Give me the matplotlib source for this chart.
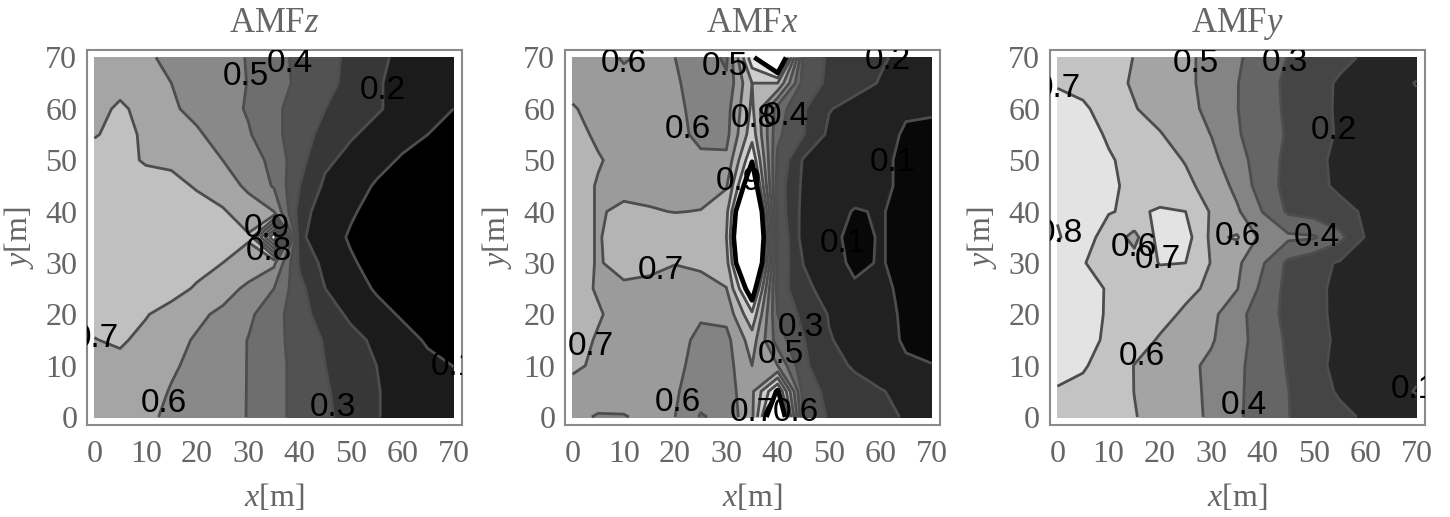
import matplotlib.pyplot as plt
import matplotlib as mpl
import numpy as np
from matplotlib.colors import Normalize

mpl.rcParams['font.family'] = ['Liberation Serif', 'DejaVu Serif']
mpl.rcParams['mathtext.fontset'] = 'custom'
mpl.rcParams['mathtext.rm'] = 'Liberation Serif'
mpl.rcParams['mathtext.it'] = 'Liberation Serif:italic'

# grid of measuring points [m]; rows of the tables go from y=70 (top) down to y=0
x_m = [0, 5, 10, 15, 20, 25, 30, 35, 40, 45, 50, 55, 60, 65, 70]
y_m = [70, 65, 60, 55, 50, 45, 40, 35, 30, 25, 20, 15, 10, 5, 0]

amf_z = [
    [0.66, 0.65, 0.61, 0.585, 0.565, 0.53, 0.495, 0.43, 0.38, 0.33, 0.28, 0.22, 0.18, 0.15, 0.13],
    [0.67, 0.68, 0.64, 0.60, 0.57, 0.54, 0.497, 0.44, 0.38, 0.33, 0.27, 0.21, 0.17, 0.14, 0.12],
    [0.68, 0.71, 0.68, 0.61, 0.58, 0.54, 0.49, 0.42, 0.36, 0.30, 0.25, 0.21, 0.17, 0.13, 0.10],
    [0.695, 0.72, 0.69, 0.65, 0.61, 0.57, 0.51, 0.43, 0.34, 0.27, 0.21, 0.17, 0.13, 0.10, 0.08],
    [0.73, 0.73, 0.69, 0.68, 0.65, 0.60, 0.55, 0.47, 0.33, 0.22, 0.17, 0.13, 0.09, 0.07, 0.06],
    [0.75, 0.75, 0.74, 0.73, 0.69, 0.65, 0.58, 0.49, 0.30, 0.18, 0.14, 0.09, 0.06, 0.05, 0.05],
    [0.76, 0.76, 0.76, 0.75, 0.74, 0.71, 0.65, 0.60, 0.25, 0.14, 0.11, 0.07, 0.05, 0.04, 0.04],
    [0.77, 0.77, 0.77, 0.77, 0.76, 0.74, 0.71, 1.30, 0.22, 0.14, 0.09, 0.06, 0.04, 0.03, 0.03],
    [0.76, 0.76, 0.76, 0.75, 0.73, 0.70, 0.66, 0.62, 0.28, 0.17, 0.11, 0.07, 0.05, 0.04, 0.04],
    [0.75, 0.75, 0.74, 0.73, 0.69, 0.64, 0.58, 0.50, 0.33, 0.20, 0.14, 0.09, 0.06, 0.05, 0.04],
    [0.72, 0.72, 0.705, 0.67, 0.62, 0.58, 0.52, 0.44, 0.34, 0.25, 0.18, 0.13, 0.09, 0.07, 0.06],
    [0.698, 0.71, 0.68, 0.63, 0.59, 0.55, 0.497, 0.43, 0.36, 0.29, 0.23, 0.18, 0.13, 0.09, 0.08],
    [0.68, 0.68, 0.65, 0.61, 0.58, 0.54, 0.497, 0.43, 0.37, 0.30, 0.25, 0.20, 0.16, 0.12, 0.099],
    [0.66, 0.65, 0.63, 0.595, 0.57, 0.535, 0.497, 0.43, 0.37, 0.31, 0.26, 0.205, 0.17, 0.14, 0.12],
    [0.65, 0.63, 0.61, 0.59, 0.56, 0.53, 0.497, 0.43, 0.37, 0.32, 0.26, 0.205, 0.17, 0.15, 0.13],
]

amf_x = [
    [0.66, 0.64, 0.59, 0.62, 0.60, 0.56, 0.48, 0.97, 1.30, 0.38, 0.285, 0.25, 0.21, 0.18, 0.16],
    [0.68, 0.65, 0.63, 0.62, 0.61, 0.565, 0.52, 0.80, 0.80, 0.36, 0.28, 0.23, 0.195, 0.16, 0.15],
    [0.705, 0.68, 0.65, 0.63, 0.62, 0.57, 0.56, 0.82, 0.45, 0.31, 0.205, 0.17, 0.15, 0.11, 0.11],
    [0.72, 0.69, 0.67, 0.65, 0.63, 0.575, 0.57, 0.86, 0.42, 0.305, 0.18, 0.15, 0.13, 0.09, 0.08],
    [0.73, 0.705, 0.68, 0.67, 0.655, 0.62, 0.62, 0.99, 0.38, 0.19, 0.16, 0.14, 0.12, 0.08, 0.07],
    [0.73, 0.695, 0.685, 0.68, 0.675, 0.675, 0.69, 1.15, 0.35, 0.18, 0.15, 0.13, 0.12, 0.08, 0.07],
    [0.73, 0.695, 0.71, 0.705, 0.698, 0.702, 0.77, 1.40, 0.36, 0.17, 0.13, 0.095, 0.105, 0.08, 0.07],
    [0.73, 0.695, 0.73, 0.74, 0.745, 0.75, 0.80, 1.50, 0.40, 0.16, 0.12, 0.08, 0.105, 0.08, 0.07],
    [0.73, 0.695, 0.72, 0.715, 0.702, 0.71, 0.76, 1.40, 0.38, 0.198, 0.13, 0.085, 0.105, 0.08, 0.07],
    [0.72, 0.695, 0.69, 0.685, 0.675, 0.68, 0.697, 1.10, 0.36, 0.22, 0.17, 0.11, 0.11, 0.09, 0.08],
    [0.72, 0.705, 0.68, 0.67, 0.65, 0.61, 0.63, 0.88, 0.40, 0.27, 0.195, 0.15, 0.12, 0.09, 0.08],
    [0.72, 0.695, 0.67, 0.65, 0.63, 0.58, 0.57, 0.75, 0.45, 0.305, 0.205, 0.175, 0.13, 0.09, 0.08],
    [0.71, 0.69, 0.665, 0.645, 0.62, 0.57, 0.56, 0.70, 0.60, 0.32, 0.23, 0.19, 0.16, 0.11, 0.102],
    [0.68, 0.66, 0.64, 0.63, 0.61, 0.55, 0.55, 0.68, 1.02, 0.36, 0.27, 0.23, 0.205, 0.18, 0.17],
    [0.63, 0.59, 0.595, 0.62, 0.60, 0.49, 0.53, 0.68, 1.25, 0.38, 0.29, 0.245, 0.215, 0.195, 0.18],
]

amf_y = [
    [0.68, 0.66, 0.63, 0.598, 0.558, 0.52, 0.47, 0.414, 0.354, 0.296, 0.26, 0.22, 0.19, 0.17, 0.15],
    [0.69, 0.67, 0.63, 0.59, 0.555, 0.52, 0.47, 0.404, 0.34, 0.28, 0.23, 0.19, 0.16, 0.14, 0.095],
    [0.74, 0.715, 0.66, 0.605, 0.565, 0.527, 0.477, 0.403, 0.342, 0.284, 0.225, 0.19, 0.17, 0.15, 0.13],
    [0.76, 0.74, 0.688, 0.647, 0.606, 0.554, 0.498, 0.41, 0.348, 0.29, 0.235, 0.19, 0.17, 0.15, 0.14],
    [0.78, 0.76, 0.71, 0.67, 0.633, 0.595, 0.527, 0.44, 0.35, 0.276, 0.216, 0.185, 0.165, 0.15, 0.14],
    [0.79, 0.77, 0.715, 0.68, 0.65, 0.62, 0.567, 0.473, 0.35, 0.27, 0.223, 0.185, 0.165, 0.15, 0.14],
    [0.79, 0.76, 0.705, 0.685, 0.71, 0.70, 0.59, 0.515, 0.398, 0.285, 0.26, 0.225, 0.19, 0.16, 0.15],
    [0.81, 0.74, 0.66, 0.57, 0.74, 0.74, 0.58, 0.61, 0.47, 0.42, 0.41, 0.33, 0.195, 0.16, 0.15],
    [0.75, 0.705, 0.66, 0.64, 0.705, 0.70, 0.595, 0.52, 0.41, 0.28, 0.23, 0.19, 0.17, 0.155, 0.145],
    [0.76, 0.73, 0.693, 0.67, 0.643, 0.62, 0.585, 0.505, 0.375, 0.27, 0.215, 0.185, 0.165, 0.15, 0.14],
    [0.76, 0.73, 0.692, 0.659, 0.626, 0.587, 0.525, 0.433, 0.345, 0.274, 0.216, 0.185, 0.165, 0.15, 0.14],
    [0.75, 0.72, 0.69, 0.636, 0.592, 0.551, 0.51, 0.434, 0.356, 0.286, 0.227, 0.185, 0.165, 0.15, 0.14],
    [0.74, 0.71, 0.658, 0.598, 0.56, 0.525, 0.48, 0.42, 0.356, 0.293, 0.216, 0.185, 0.16, 0.14, 0.12],
    [0.69, 0.675, 0.645, 0.599, 0.562, 0.523, 0.486, 0.417, 0.356, 0.302, 0.235, 0.19, 0.16, 0.13, 0.095],
    [0.68, 0.665, 0.635, 0.604, 0.57, 0.53, 0.486, 0.414, 0.357, 0.303, 0.257, 0.22, 0.19, 0.16, 0.14],
]

titles = ['AMF$z$', 'AMF$x$', 'AMF$y$']
contour_levels = [0.1, 0.2, 0.3, 0.4, 0.5, 0.6, 0.7, 0.8, 0.9, 1.0, 1.1, 1.2, 1.3]
ticks = [0, 10, 20, 30, 40, 50, 60, 70]

fig = plt.figure(figsize=(14.5, 5.17), dpi=100)
lefts = [0.060, 0.3897, 0.7241]
axes = [fig.add_axes([l, 0.178, 0.2586, 0.7253]) for l in lefts]

X, Y = np.meshgrid(x_m, y_m)


def setup(ax, title):
    ax.set_xlim(-1.45, 71.65)
    ax.set_ylim(-1.55, 71.45)
    ax.set_xticks(ticks)
    ax.set_yticks(ticks)
    ax.tick_params(length=0, labelsize=23, labelcolor='#666666')
    ax.tick_params(axis='x', pad=11)
    ax.tick_params(axis='y', pad=7)
    for s in ax.spines.values():
        s.set_color('#8a8a8a')
        s.set_linewidth(1.5)
    ax.set_title(title, fontsize=25, color='#666666', pad=13)
    ax.set_xlabel('$x$[m]', fontsize=23, color='#666666', labelpad=9)
    ax.set_ylabel('$y$[m]', fontsize=23, color='#666666', labelpad=7)


def put_labels(ax, Z, spots):
    # one invisible contour per label so that the label sits on the wanted level
    for lev, pos in spots:
        cs1 = ax.contour(X, Y, Z, levels=[lev], linewidths=0)
        txts = cs1.clabel(manual=[pos], inline=False, fmt='%.1f',
                          fontsize=24, colors='k')
        for t in txts:
            t.set_rotation(0)
            t.set_family('Liberation Sans')


def panel(ax, z, top, lo, hi, spots, clip=False):
    Z = np.array(z)
    nlev = [v for v in contour_levels if v <= top]
    fill = [0.0] + nlev + ([] if clip else [round(top + 0.1, 1)])
    ax.contourf(X, Y, Z, levels=fill, cmap='gray', norm=Normalize(lo, hi))
    line_lev = nlev[:-1] if clip else nlev
    ax.contour(X, Y, Z, levels=line_lev, colors='#4d4d4d', linewidths=2.0)
    if clip:
        ax.contour(X, Y, Z, levels=[nlev[-1]], colors='k', linewidths=3.4)
    put_labels(ax, Z, spots)


panel(axes[0], amf_z, 1.3, 0.05, 0.98,
      [(0.5, (29.4, 66.2)), (0.4, (38.1, 68.8)), (0.2, (56.3, 63.6)),
       (0.9, (34.6, 35.7)), (0.8, (34.6, 32.8)), (0.7, (0.5, 15.6)),
       (0.6, (13.8, 2.6)), (0.3, (46.3, 1.9)), (0.1, (69.8, 6.5))])
panel(axes[1], amf_x, 1.0, 0.015, 1.06,
      [(0.6, (9.1, 67.4)), (0.5, (27.3, 67.0)), (0.2, (63.4, 68.4)),
       (0.6, (22.1, 56.0)), (0.8, (35.1, 58.0)), (0.4, (42.6, 58.3)),
       (0.9, (33.1, 45.6)), (0.1, (60.8, 49.5)), (0.1, (49.4, 33.3)),
       (0.7, (17.2, 28.7)), (0.7, (3.2, 13.8)), (0.3, (43.2, 17.0)),
       (0.5, (38.3, 10.9)), (0.6, (20.8, 2.7)), (0.7, (35.1, 0.8)),
       (0.6, (42.2, 0.8))], clip=True)
panel(axes[2], amf_y, 0.8, 0.03, 0.84,
      [(0.5, (27.5, 68.8)), (0.3, (45.3, 68.8)), (0.7, (0.0, 63.6)),
       (0.2, (55.1, 55.8)), (0.8, (0.5, 35.7)), (0.6, (13.8, 32.1)),
       (0.7, (20.6, 30.8)), (0.6, (34.9, 35.0)), (0.4, (52.5, 35.4)),
       (0.6, (17.4, 11.0)), (0.4, (35.9, 2.3)), (0.1, (69.4, 5.5))])

for ax, t in zip(axes, titles):
    setup(ax, t)

fig.savefig('out.png', dpi=100)
